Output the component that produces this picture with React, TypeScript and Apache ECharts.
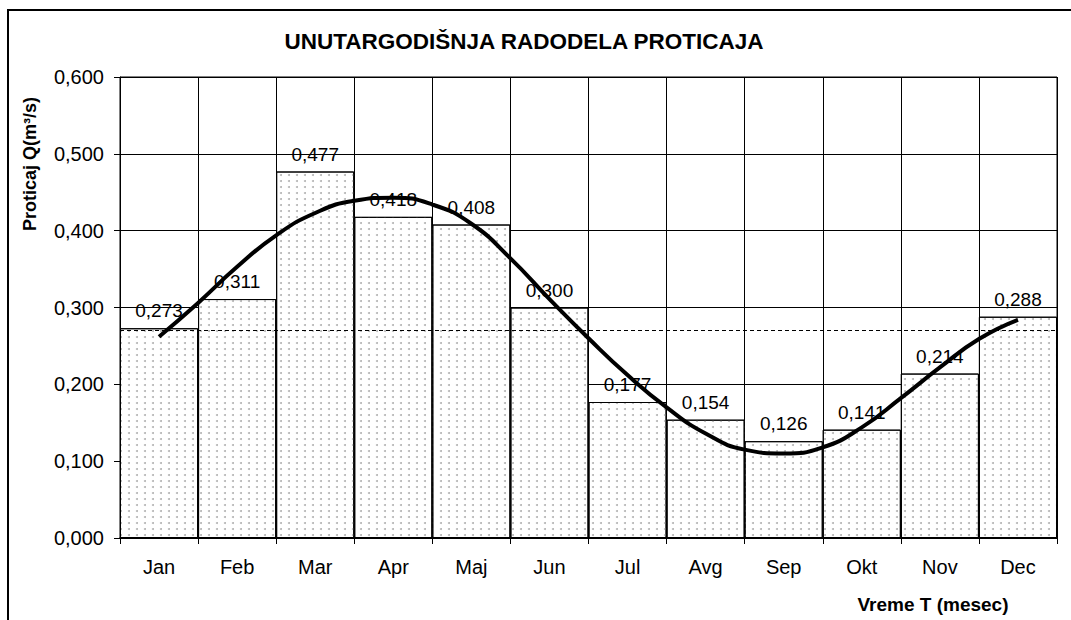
import React, { useEffect, useRef } from "react";
import * as echarts from "echarts";

const months = ["Jan", "Feb", "Mar", "Apr", "Maj", "Jun", "Jul", "Avg", "Sep", "Okt", "Nov", "Dec"];
const flowValues = [0.273, 0.311, 0.477, 0.418, 0.408, 0.3, 0.177, 0.154, 0.126, 0.141, 0.214, 0.288];
// trend curve at month centres (x.5) and month boundaries (x.0)
const trendPositions = [
  0.5, 1, 1.5, 2, 2.5, 3, 3.5, 4, 4.5, 5, 5.5, 6,
  6.5, 7, 7.5, 8, 8.5, 9, 9.5, 10, 10.5, 11, 11.5,
];
const trendValues = [
  0.262, 0.306, 0.353, 0.394, 0.423, 0.439, 0.443, 0.434, 0.409, 0.364, 0.311, 0.26,
  0.212, 0.17, 0.136, 0.115, 0.11, 0.118, 0.144, 0.182, 0.222, 0.259, 0.284,
];
const meanValue = 0.274;

const FONT = "'Liberation Sans', Arial, sans-serif";
const fmt = (v: number) => v.toFixed(3).replace(".", ",");

export default function App() {
  const ref = useRef<HTMLDivElement>(null);
  useEffect(() => {
    if (!ref.current) return;
    const chart = echarts.init(ref.current, null, { renderer: "svg" });
    chart.setOption({
      animation: false,
      backgroundColor: "#ffffff",
      textStyle: { fontFamily: FONT },
      grid: {
        left: 120,
        right: 14,
        top: 77,
        bottom: 82,
        show: true,
        borderColor: "#000",
        borderWidth: 1,
        backgroundColor: "transparent",
      },
      graphic: [
        {
          type: "polyline",
          shape: { points: [[8, 620], [8, 10], [1071, 10]] },
          style: { stroke: "#000", lineWidth: 2, fill: null },
          z: 10,
        },
        {
          type: "text",
          x: 524,
          y: 41,
          style: {
            text: "UNUTARGODIŠNJA RADODELA PROTICAJA",
            font: `bold 22.5px ${FONT}`,
            fill: "#000",
            align: "center",
            verticalAlign: "middle",
          },
        },
        {
          type: "text",
          x: 30,
          y: 164,
          rotation: Math.PI / 2,
          style: {
            text: "Proticaj Q(m³/s)",
            font: `bold 18px ${FONT}`,
            fill: "#000",
            align: "center",
            verticalAlign: "middle",
          },
        },
        {
          type: "text",
          x: 933,
          y: 604,
          style: {
            text: "Vreme T (mesec)",
            font: `bold 19px ${FONT}`,
            fill: "#000",
            align: "center",
            verticalAlign: "middle",
          },
        },
      ],
      xAxis: [
        {
          type: "category",
          data: months,
          boundaryGap: true,
          axisLine: { show: true, lineStyle: { color: "#000", width: 1.5 } },
          axisTick: { show: true, length: 6, alignWithLabel: false, lineStyle: { color: "#000" } },
          axisLabel: { color: "#000", fontSize: 20, margin: 19, fontFamily: FONT },
          splitLine: { show: true, interval: 0, lineStyle: { color: "#000", width: 1 } },
        },
        {
          type: "value",
          min: 0,
          max: 12,
          show: false,
          position: "bottom",
          splitLine: { show: false },
        },
      ],
      yAxis: {
        type: "value",
        min: 0,
        max: 0.6,
        interval: 0.1,
        axisLine: { show: true, lineStyle: { color: "#000", width: 1 } },
        axisTick: { show: true, length: 6, lineStyle: { color: "#000" } },
        axisLabel: {
          color: "#000",
          fontSize: 20,
          margin: 16,
          fontFamily: FONT,
          formatter: (v: number) => fmt(v),
        },
        splitLine: { show: true, lineStyle: { color: "#000", width: 1 } },
      },
      series: [
        {
          type: "bar",
          data: flowValues,
          xAxisIndex: 0,
          barCategoryGap: "0%",
          barGap: "0%",
          itemStyle: {
            color: "#ffffff",
            borderColor: "#000",
            borderWidth: 1,
            decal: {
              symbol: "circle",
              symbolSize: 1,
              color: "#b4b4b4",
              dashArrayX: [2, 6],
              dashArrayY: [2, 4],
              rotation: 0,
            },
          },
          label: {
            show: true,
            position: "top",
            distance: 8,
            color: "#000",
            fontSize: 19,
            fontFamily: FONT,
            formatter: (p: any) => fmt(p.value),
          },
          markLine: {
            silent: true,
            symbol: ["none", "none"],
            label: { show: false },
            lineStyle: { color: "#000", type: [4, 3], width: 1 },
            data: [{ yAxis: meanValue }],
            z: 3,
          },
          z: 2,
        },
        {
          type: "line",
          xAxisIndex: 1,
          data: trendPositions.map((x, i) => [x, trendValues[i]]),
          smooth: 0.5,
          symbol: "none",
          lineStyle: { color: "#000", width: 4 },
          z: 5,
        },
      ],
    });
    return () => chart.dispose();
  }, []);
  return (
    <div
      ref={ref}
      style={{ position: "absolute", left: 0, top: 0, width: 1071, height: 620 }}
    />
  );
}
